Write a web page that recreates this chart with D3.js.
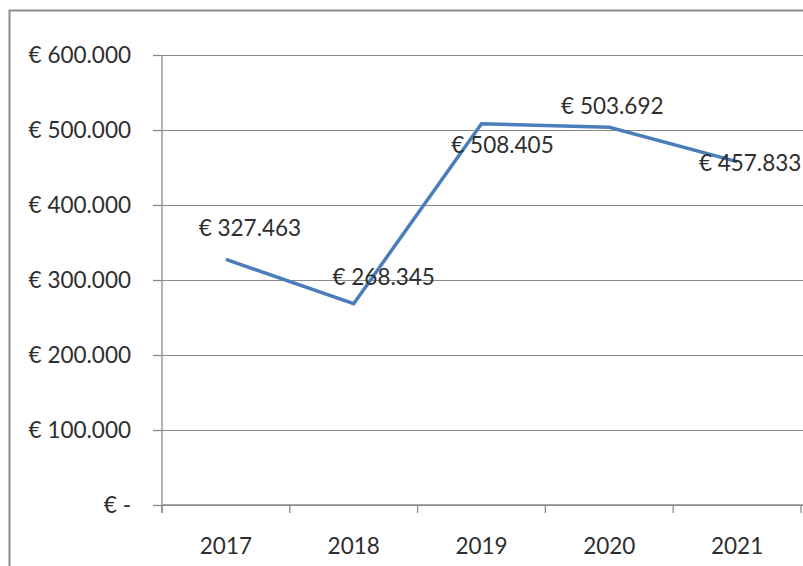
<!DOCTYPE html>
<html>
<head>
<meta charset="utf-8">
<script src="https://cdn.jsdelivr.net/npm/d3@7"></script>
<style>
  html, body { margin: 0; padding: 0; background: #fff; }
  svg { display: block; }
  text { font-family: Lato, "Open Sans", sans-serif; fill: #2e2e2e; }
</style>
</head>
<body>
<svg id="chart" width="803" height="566"></svg>
<script>
// ---- data ----
const years = ["2017", "2018", "2019", "2020", "2021"];
const revenue = [327463, 268345, 508405, 503692, 457833];
const yTicks = [0, 100000, 200000, 300000, 400000, 500000, 600000];
// label placement offsets relative to each point (dx, dy)
const labelDx = [24, 30, 21, 3, 13];
const labelDy = [-32, -27, 21, -22, 1];

// ---- layout ----
const W = 803, H = 566;
const plot = { left: 162, right: 801, top: 55, bottom: 505 };
const fontSize = 22.5;

const locale = d3.formatLocale({ decimal: ",", thousands: ".", grouping: [3], currency: ["€ ", ""] });
const fmt = locale.format("$,.0f");
const euro = v => v === 0 ? "€ -" : fmt(v);

const svg = d3.select("#chart");

// outer chart border (cropped at right and bottom)
svg.append("rect")
  .attr("x", 9.5).attr("y", 10.5)
  .attr("width", W + 20).attr("height", H + 20)
  .attr("fill", "#fff").attr("stroke", "#8c8c8c").attr("stroke-width", 2);

const x = d3.scaleBand().domain(years).range([plot.left, plot.right]).padding(0);
const y = d3.scaleLinear().domain([0, 600000]).range([plot.bottom, plot.top]);

// gridlines
const grid = svg.append("g").attr("transform", `translate(${plot.left},0)`)
  .call(d3.axisLeft(y).tickValues(yTicks).tickSize(-(W + 10 - plot.left)).tickFormat(""));
grid.select(".domain").remove();
grid.selectAll("line").attr("stroke", "#8a8a8a").attr("stroke-width", 1.3).attr("shape-rendering", "crispEdges");

// y axis
const yAxis = svg.append("g").attr("transform", `translate(${plot.left},0)`)
  .call(d3.axisLeft(y).tickValues(yTicks).tickSizeInner(9).tickSizeOuter(0).tickPadding(22).tickFormat(euro));
yAxis.select(".domain").attr("stroke", "#8a8a8a").attr("stroke-width", 1.3)
  .attr("d", `M0,${plot.top}V${plot.bottom + 8}`);
yAxis.selectAll(".tick line").attr("stroke", "#8a8a8a").attr("stroke-width", 1.3);
yAxis.selectAll("text").attr("font-size", fontSize).attr("font-family", "Lato").attr("fill", "#2e2e2e");

// x axis (ticks at category boundaries)
const xAxisG = svg.append("g").attr("transform", `translate(0,${plot.bottom})`);
xAxisG.append("line").attr("x1", plot.left).attr("x2", W).attr("y1", 0).attr("y2", 0)
  .attr("stroke", "#8a8a8a").attr("stroke-width", 1.3);
const boundaries = years.map(d => x(d)).concat([x(years[years.length - 1]) + x.bandwidth()]);
xAxisG.selectAll("line.tk").data(boundaries).join("line").attr("class", "tk")
  .attr("x1", d => d).attr("x2", d => d).attr("y1", 0).attr("y2", 8)
  .attr("stroke", "#8a8a8a").attr("stroke-width", 1.3);
xAxisG.selectAll("text").data(years).join("text")
  .attr("x", d => x(d) + x.bandwidth() / 2).attr("y", 40)
  .attr("text-anchor", "middle").attr("dominant-baseline", "central")
  .attr("font-size", fontSize).text(d => d);

// line
const pts = years.map((d, i) => [x(d) + x.bandwidth() / 2, y(revenue[i])]);
svg.append("path").datum(pts)
  .attr("d", d3.line())
  .attr("fill", "none").attr("stroke", "#4a7ebb").attr("stroke-width", 3.5)
  .attr("stroke-linejoin", "miter");

// data labels
svg.append("g").selectAll("text").data(pts).join("text")
  .attr("x", (p, i) => p[0] + labelDx[i])
  .attr("y", (p, i) => p[1] + labelDy[i])
  .attr("text-anchor", "middle").attr("dominant-baseline", "central")
  .attr("font-size", fontSize)
  .text((p, i) => euro(revenue[i]));
</script>
</body>
</html>
